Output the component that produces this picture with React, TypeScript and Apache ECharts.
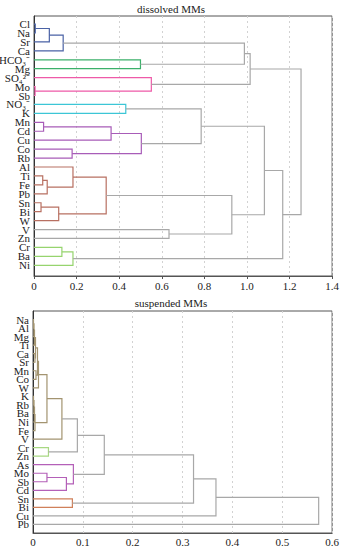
import React, { useEffect, useRef } from "react";
import * as echarts from "echarts";

// ---------- dissolved MMs ----------
const dissolvedLeaves = [
  "Cl", "Na", "Sr", "Ca", "HCO₃⁻", "Mg", "SO₄²⁻", "Mo", "Sb", "NO₃⁻", "K",
  "Mn", "Cd", "Cu", "Co", "Rb", "Al", "Ti", "Fe", "Pb", "Sn", "Bi", "W",
  "V", "Zn", "Cr", "Ba", "Ni",
];
// [childA, childB, height, colour key]  (node ids: leaves 0..n-1, merges n..)
const dissolvedMerges: [number, number, number, string][] = [
  [0, 1, 0.006, "blue"],
  [28, 2, 0.072, "blue"],
  [29, 3, 0.137, "blue"],
  [4, 5, 0.5, "green"],
  [7, 8, 0.005, "pink"],
  [6, 32, 0.551, "pink"],
  [30, 31, 0.988, "gray"],
  [34, 33, 1.015, "gray"],
  [9, 10, 0.431, "cyan"],
  [11, 12, 0.045, "purple"],
  [37, 13, 0.362, "purple"],
  [14, 15, 0.179, "purple"],
  [38, 39, 0.504, "purple"],
  [36, 40, 0.785, "gray"],
  [17, 18, 0.041, "brown"],
  [42, 19, 0.062, "brown"],
  [16, 43, 0.183, "brown"],
  [20, 21, 0.033, "brown"],
  [45, 22, 0.116, "brown"],
  [44, 46, 0.339, "brown"],
  [23, 24, 0.634, "gray"],
  [47, 48, 0.929, "gray"],
  [41, 49, 1.082, "gray"],
  [25, 26, 0.131, "lgreen"],
  [51, 27, 0.183, "lgreen"],
  [50, 52, 1.168, "gray"],
  [35, 53, 1.254, "gray"],
];
const dissolvedTicks = [0, 0.2, 0.4, 0.6, 0.8, 1.0, 1.2, 1.4];

// ---------- suspended MMs ----------
const suspendedLeaves = [
  "Na", "Al", "Mg", "Ti", "Ca", "Sr", "Mn", "Co", "W", "K", "Rb", "Ba",
  "Ni", "Fe", "V", "Cr", "Zn", "As", "Mo", "Sb", "Cd", "Sn", "Bi", "Cu", "Pb",
];
const suspendedMerges: [number, number, number, string][] = [
  [0, 1, 0.001, "olive"],
  [25, 2, 0.002, "olive"],
  [26, 3, 0.003, "olive"],
  [4, 5, 0.004, "olive"],
  [27, 28, 0.005, "olive"],
  [6, 7, 0.006, "olive"],
  [29, 30, 0.009, "olive"],
  [31, 8, 0.011, "olive"],
  [9, 10, 0.001, "olive"],
  [33, 11, 0.002, "olive"],
  [34, 12, 0.003, "olive"],
  [35, 13, 0.004, "olive"],
  [32, 36, 0.028, "olive"],
  [37, 14, 0.058, "olive"],
  [15, 16, 0.031, "lgreen2"],
  [38, 39, 0.089, "gray"],
  [18, 19, 0.028, "purple2"],
  [41, 20, 0.067, "purple2"],
  [17, 42, 0.081, "purple2"],
  [40, 43, 0.143, "gray"],
  [21, 22, 0.079, "orange"],
  [44, 45, 0.322, "gray"],
  [46, 23, 0.367, "gray"],
  [47, 24, 0.573, "gray"],
];
const suspendedTicks = [0, 0.1, 0.2, 0.3, 0.4, 0.5, 0.6];

const palette: Record<string, string> = {
  blue: "#4a62a5",
  green: "#3bb06a",
  pink: "#ee5aa8",
  cyan: "#3cc6d6",
  purple: "#a85cb8",
  brown: "#b87062",
  lgreen: "#96d46e",
  gray: "#a8a8a8",
  olive: "#a39470",
  lgreen2: "#a8d882",
  purple2: "#b460b8",
  orange: "#d0805a",
};
const paletteKeys = Object.keys(palette);

function buildLinks(nLeaves: number, merges: [number, number, number, string][]) {
  const ys: number[] = [];
  const hs: number[] = [];
  for (let i = 0; i < nLeaves; i++) {
    ys.push(i);
    hs.push(0);
  }
  const out: number[][] = [];
  merges.forEach(([a, b, h, c]) => {
    out.push([hs[a], ys[a], h, ys[b], hs[b], paletteKeys.indexOf(c)]);
    ys.push((ys[a] + ys[b]) / 2);
    hs.push(h);
  });
  return out;
}

const FONT = "Liberation Serif";

export default function App() {
  const ref = useRef<HTMLDivElement>(null);
  useEffect(() => {
    if (!ref.current) return;
    const chart = echarts.init(ref.current, undefined, { renderer: "svg" });

    const renderLink = (params: any, api: any) => {
      const p1 = api.coord([api.value(0), api.value(1)]);
      const p2 = api.coord([api.value(2), api.value(1)]);
      const p3 = api.coord([api.value(2), api.value(3)]);
      const p4 = api.coord([api.value(4), api.value(3)]);
      const color = palette[paletteKeys[api.value(5)]];
      return {
        type: "polyline",
        shape: { points: [p1, p2, p3, p4] },
        style: { stroke: color, fill: "none", lineWidth: 1.2 },
      };
    };

    const makeLabelRenderer = (leaves: string[]) => (params: any, api: any) => {
      const p = api.coord([api.value(0), api.value(1)]);
      return {
        type: "text",
        x: p[0] - 4,
        y: p[1],
        style: {
          text: leaves[params.dataIndex],
          align: "right",
          verticalAlign: "middle",
          fontFamily: FONT,
          fontSize: 11,
          lineHeight: 8,
          fill: "#222",
        },
      };
    };

    const yAxisFor = (min: number, max: number, gridIndex: number) => ({
      type: "value",
      gridIndex,
      inverse: true,
      min,
      max,
      splitLine: { show: false },
      axisTick: { show: false },
      axisLabel: { show: false },
      axisLine: { show: true, lineStyle: { color: "#333", width: 1 } },
    });

    const xAxisFor = (ticks: number[], gridIndex: number, showTicks: boolean, margin: number) => ({
      type: "value",
      gridIndex,
      min: ticks[0],
      max: ticks[ticks.length - 1],
      interval: ticks[1] - ticks[0],
      axisLine: { show: true, onZero: false, lineStyle: { color: "#555", width: 1 } },
      axisTick: { show: showTicks, length: 3, lineStyle: { color: "#555" } },
      splitLine: { show: true, lineStyle: { color: "#d2d2d2", type: [2, 3], width: 1 } },
      axisLabel: {
        fontFamily: FONT,
        fontSize: 11,
        color: "#222",
        margin,
        formatter: (v: number) => (Math.abs(v) < 1e-9 ? "0" : v.toFixed(1)),
      },
    });

    chart.setOption({
      animation: false,
      backgroundColor: "#fff",
      title: [
        {
          text: "dissolved MMs",
          left: "center",
          top: 3,
          padding: 0,
          textStyle: { fontFamily: FONT, fontSize: 11, fontWeight: "normal", color: "#222" },
        },
        {
          text: "suspended MMs",
          left: "center",
          top: 297,
          padding: 0,
          textStyle: { fontFamily: FONT, fontSize: 11, fontWeight: "normal", color: "#222" },
        },
      ],
      grid: [
        { left: 34, right: 9, top: 16, height: 260, show: true, borderColor: "#555", borderWidth: 1, backgroundColor: "transparent" },
        { left: 33, right: 9, top: 311, height: 222, show: true, borderColor: "#555", borderWidth: 1, backgroundColor: "transparent" },
      ],
      xAxis: [xAxisFor(dissolvedTicks, 0, true, 4), xAxisFor(suspendedTicks, 1, false, 3)],
      yAxis: [yAxisFor(-0.9, 28.2, 0), yAxisFor(-1, 25, 1)],
      series: [
        {
          type: "custom",
          xAxisIndex: 0,
          yAxisIndex: 0,
          renderItem: renderLink,
          data: buildLinks(dissolvedLeaves.length, dissolvedMerges),
          encode: { x: [0, 2, 4], y: [1, 3] },
          clip: false,
        },
        {
          type: "custom",
          xAxisIndex: 1,
          yAxisIndex: 1,
          renderItem: renderLink,
          data: buildLinks(suspendedLeaves.length, suspendedMerges),
          encode: { x: [0, 2, 4], y: [1, 3] },
          clip: false,
        },
        {
          type: "custom",
          xAxisIndex: 0,
          yAxisIndex: 0,
          renderItem: makeLabelRenderer(dissolvedLeaves),
          data: dissolvedLeaves.map((_, i) => [0, i]),
          encode: { x: 0, y: 1 },
          clip: false,
          silent: true,
        },
        {
          type: "custom",
          xAxisIndex: 1,
          yAxisIndex: 1,
          renderItem: makeLabelRenderer(suspendedLeaves),
          data: suspendedLeaves.map((_, i) => [0, i]),
          encode: { x: 0, y: 1 },
          clip: false,
          silent: true,
        },
      ],
    });
    return () => chart.dispose();
  }, []);

  return (
    <div
      ref={ref}
      style={{ position: "fixed", left: 0, top: 0, width: 342, height: 550, background: "#fff" }}
    />
  );
}
